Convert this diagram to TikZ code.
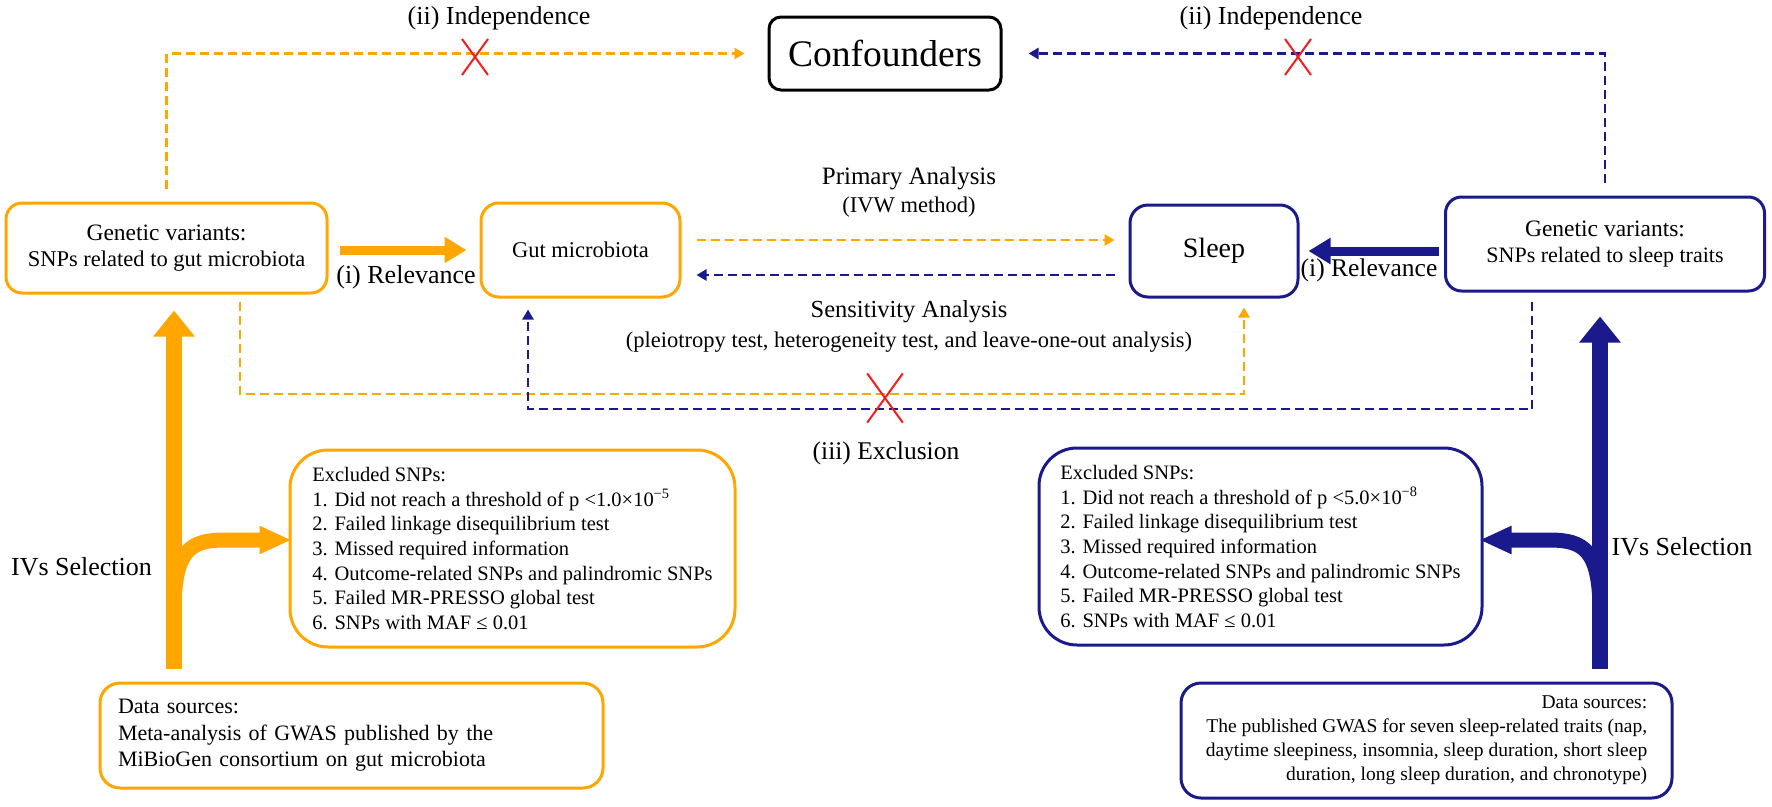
\documentclass[tikz,border=0pt]{standalone}
\usepackage{fontspec}
\setmainfont{Liberation Serif}
\usetikzlibrary{arrows.meta,positioning,calc}

\definecolor{gutorange}{RGB}{255,166,0}
\definecolor{sleepblue}{RGB}{26,26,140}
\definecolor{crossred}{RGB}{240,30,30}

\tikzset{
  box/.style={draw,line width=3pt,rounded corners=16pt,fill=white,inner sep=0pt,align=center},
  gbox/.style={box,draw=gutorange},
  sbox/.style={box,draw=sleepblue},
  lbl/.style={inner sep=0pt,align=center,font=\fontsize{25}{30}\selectfont},
  odash/.style={gutorange,line width=2.5pt,dash pattern=on 9pt off 5pt,-{Triangle[width=11pt,length=10pt]}},
  bdash/.style={sleepblue,line width=2.5pt,dash pattern=on 9pt off 5pt,-{Triangle[width=11pt,length=10pt]}},
  fatO/.style={gutorange,line width=9pt,-{Triangle[width=25pt,length=22pt]}},
  fatB/.style={sleepblue,line width=9pt,-{Triangle[width=25pt,length=22pt]}},
  hugeO/.style={gutorange,line width=16pt,-{Triangle[width=40pt,length=26pt]}},
  hugeB/.style={sleepblue,line width=16pt,-{Triangle[width=40pt,length=26pt]}},
  branchO/.style={gutorange,line width=15pt,-{Triangle[width=26pt,length=32pt]}},
  branchB/.style={sleepblue,line width=15pt,-{Triangle[width=26pt,length=32pt]}},
  xmark/.pic={\draw[crossred,line width=2pt] (-13,-18) -- (13,18) (-13,18) -- (13,-18);}
}

\begin{document}
\begin{tikzpicture}[x=1pt,y=-1pt]
  \useasboundingbox (0,0) rectangle (1772,806);

  % main boxes
  \node[box,rounded corners=12pt,minimum width=232pt,minimum height=73pt,
        font=\fontsize{37.5}{44}\selectfont] (conf) at (885,53.5) {Confounders};
  \node[gbox,minimum width=321pt,minimum height=90pt,font=\fontsize{23.5}{28}\selectfont]
        (gvL) at (166.5,248) {Genetic variants:\\[-2pt]{\fontsize{22.5}{26}\selectfont SNPs related to gut microbiota}};
  \node[gbox,rounded corners=18pt,minimum width=199pt,minimum height=94pt,
        font=\fontsize{22.5}{28}\selectfont] (gut) at (580.5,250) {Gut microbiota};
  \node[sbox,rounded corners=18pt,minimum width=168pt,minimum height=92pt,
        font=\fontsize{28}{32}\selectfont] (sleep) at (1214,251) {Sleep};
  \node[sbox,minimum width=319pt,minimum height=94pt,font=\fontsize{23.5}{28}\selectfont]
        (gvR) at (1605,244) {Genetic variants:\\[-2pt]{\fontsize{22}{26}\selectfont SNPs related to sleep traits}};

  % excluded SNPs
  \node[gbox,rounded corners=38pt,minimum width=445pt,minimum height=197pt,align=left,
        font=\fontsize{20.5}{24.7}\selectfont] (exL) at (512.5,548.5)
        {Excluded SNPs:\\
         1. Did not reach a threshold of p <1.0×10\textsuperscript{−5}\\
         2. Failed linkage disequilibrium test\\
         3. Missed required information\\
         4. Outcome-related SNPs and palindromic SNPs\\
         5. Failed MR-PRESSO global test\\
         6. SNPs with MAF ≤ 0.01};
  \node[sbox,rounded corners=38pt,minimum width=443pt,minimum height=197pt,align=left,
        font=\fontsize{20.5}{24.7}\selectfont] (exR) at (1260.5,546.5)
        {Excluded SNPs:\\
         1. Did not reach a threshold of p <5.0×10\textsuperscript{−8}\\
         2. Failed linkage disequilibrium test\\
         3. Missed required information\\
         4. Outcome-related SNPs and palindromic SNPs\\
         5. Failed MR-PRESSO global test\\
         6. SNPs with MAF ≤ 0.01};

  % data sources
  \node[gbox,rounded corners=20pt,text width=467pt,inner xsep=18pt,minimum height=105pt,
        align=left,font=\fontsize{22}{26.5}\selectfont] (dsL) at (351.5,735.5)
        {Data sources:\\
         Meta-analysis of GWAS published by the\\
         MiBioGen consortium on gut microbiota};
  \node[sbox,rounded corners=20pt,minimum width=491pt,minimum height=115pt,
        align=right,font=\fontsize{19.5}{24}\selectfont] (dsR) at (1426.5,740.5)
        {Data sources:\\
         The published GWAS for seven sleep-related traits (nap,\\
         daytime sleepiness, insomnia, sleep duration, short sleep\\
         duration, long sleep duration, and chronotype)};

  % labels
  \node[lbl,font=\fontsize{26}{30}\selectfont] (indL) at (499,18) {(ii) Independence};
  \node[lbl,font=\fontsize{26}{30}\selectfont] (indR) at (1271,18) {(ii) Independence};
  \node[lbl,font=\fontsize{26}{30}\selectfont] (relL) at (406,277) {(i) Relevance};
  \node[lbl,font=\fontsize{25.5}{30}\selectfont] (relR) at (1369,270) {(i) Relevance};
  \node[lbl] (prim) at (909,192) {Primary Analysis\\[-2pt]{\fontsize{22.5}{26}\selectfont (IVW method)}};
  \node[lbl,font=\fontsize{24.5}{30}\selectfont] (sens) at (909,326) {Sensitivity Analysis\\{\fontsize{22.5}{26}\selectfont
        (pleiotropy test, heterogeneity test, and leave-one-out analysis)}};
  \node[lbl,font=\fontsize{25.5}{30}\selectfont] (exc) at (886,453) {(iii) Exclusion};
  \node[lbl,font=\fontsize{26}{30}\selectfont] (ivsL) at (81.5,567) {IVs Selection};
  \node[lbl,font=\fontsize{26}{30}\selectfont] (ivsR) at (1682,547) {IVs Selection};

  % independence
  \draw[odash,shorten <=13pt,shorten >=23pt] (gvL.north) |- (conf.west);
  \draw[bdash,shorten <=13pt,shorten >=26pt] (gvR.north) |- (conf.east);
  \pic at (475,57) {xmark};
  \pic at (1298,57) {xmark};

  % relevance
  \draw[fatO,shorten <=11pt,shorten >=13pt] (gut.west -| gvL.east) -- (gut.west);
  \draw[fatB,shorten <=5pt,shorten >=9pt] (sleep.east -| gvR.west) -- (sleep.east);

  % primary and sensitivity analysis
  \draw[odash,shorten <=15pt,shorten >=14pt] ([yshift=10pt]gut.east) -- ([yshift=10pt]gut.east -| sleep.west);
  \draw[bdash,shorten <=14pt,shorten >=15pt] ([yshift=-25pt]gut.east -| sleep.west) -- ([yshift=-25pt]gut.east);

  % exclusion
  \coordinate (lowO) at (0,394);
  \coordinate (lowB) at (0,409);
  \coordinate (oUp) at ([xshift=30pt]sleep.south);
  \coordinate (bUp) at ([xshift=-52.5pt]gut.south);
  \draw[odash,shorten <=7pt,shorten >=9pt] ([xshift=73.5pt]gvL.south) |- (lowO -| oUp) -- (oUp);
  \draw[bdash,shorten <=9pt,shorten >=11pt] ([xshift=-73pt]gvR.south) |- (lowB -| bUp) -- (bUp);
  \pic[scale=1.37] at (885,398) {xmark};

  % IVs selection
  \coordinate (ivL) at (174,0);
  \coordinate (ivR) at (1600,0);
  \coordinate (brL) at (174,612);
  \coordinate (brR) at (1600,612);
  \draw[hugeO,shorten <=13pt,shorten >=16pt] (ivL |- dsL.north) -- (ivL |- gvL.south);
  \draw[hugeB,shorten <=13pt,shorten >=24pt] (ivR |- dsR.north) -- (ivR |- gvR.south);
  \draw[branchO,shorten >=-3pt] (brL) .. controls (174,550) and (190,540) .. (225,540) -- ([yshift=8.5pt]exL.west);
  \draw[branchB,shorten >=-4pt] (brR) .. controls (1600,550) and (1584,540) .. (1549,540) -- ([yshift=6.5pt]exR.east);
\end{tikzpicture}
\end{document}
